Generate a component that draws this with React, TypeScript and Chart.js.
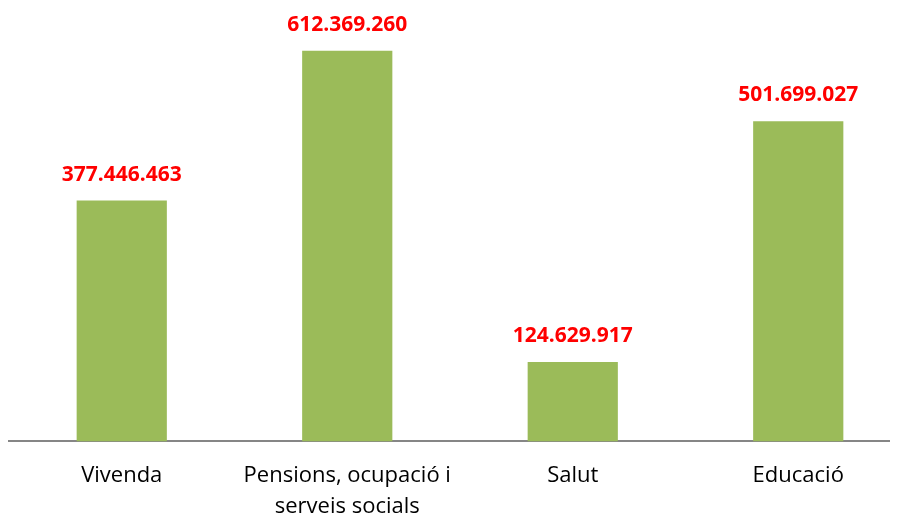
import React, { useEffect, useRef } from "react";
import { Chart, registerables } from "chart.js";

Chart.register(...registerables);

const categories: (string | string[])[] = [
  "Vivenda",
  ["Pensions, ocupació i", "serveis socials"],
  "Salut",
  "Educació",
];
const values: number[] = [377446463, 612369260, 124629917, 501699027];

const fmt = (v: number) => v.toString().replace(/\B(?=(\d{3})+(?!\d))/g, ".");

const labelPlugin = {
  id: "valueLabels",
  afterDatasetsDraw(chart: any) {
    const ctx = chart.ctx;
    const meta = chart.getDatasetMeta(0);
    ctx.save();
    ctx.font = "bold 21px 'Open Sans'";
    ctx.fillStyle = "#FF0000";
    ctx.textAlign = "center";
    ctx.textBaseline = "middle";
    meta.data.forEach((bar: any, i: number) => {
      ctx.fillText(fmt(values[i]), bar.x, bar.y - 26);
    });
    ctx.restore();
  },
};

export default function App() {
  const ref = useRef<HTMLCanvasElement>(null);
  useEffect(() => {
    if (!ref.current) return;
    const chart = new Chart(ref.current, {
      type: "bar",
      data: {
        labels: categories,
        datasets: [
          {
            data: values,
            backgroundColor: "#9BBB59",
            categoryPercentage: 1,
            barPercentage: 0.4,
          },
        ],
      },
      options: {
        animation: false,
        responsive: false,
        maintainAspectRatio: false,
        layout: { padding: { top: 20, left: 1, right: 0, bottom: -24 } },
        plugins: { legend: { display: false }, tooltip: { enabled: false } },
        scales: {
          x: {
            grid: { display: false, drawTicks: false },
            border: { display: true, color: "#868686", width: 2 },
            ticks: {
              color: "#000000",
              font: { family: "'Open Sans'", size: 22, lineHeight: 1.4 },
              padding: 19,
              maxRotation: 0,
              autoSkip: false,
            },
          },
          y: {
            display: false,
            min: 0,
            max: 648000000,
          },
        },
      },
      plugins: [labelPlugin],
    });
    return () => chart.destroy();
  }, []);
  return (
    <div style={{ width: 890, height: 509, overflow: "hidden" }}>
      <canvas ref={ref} width={903} height={509} style={{ width: 903, height: 509, display: "block" }} />
    </div>
  );
}
